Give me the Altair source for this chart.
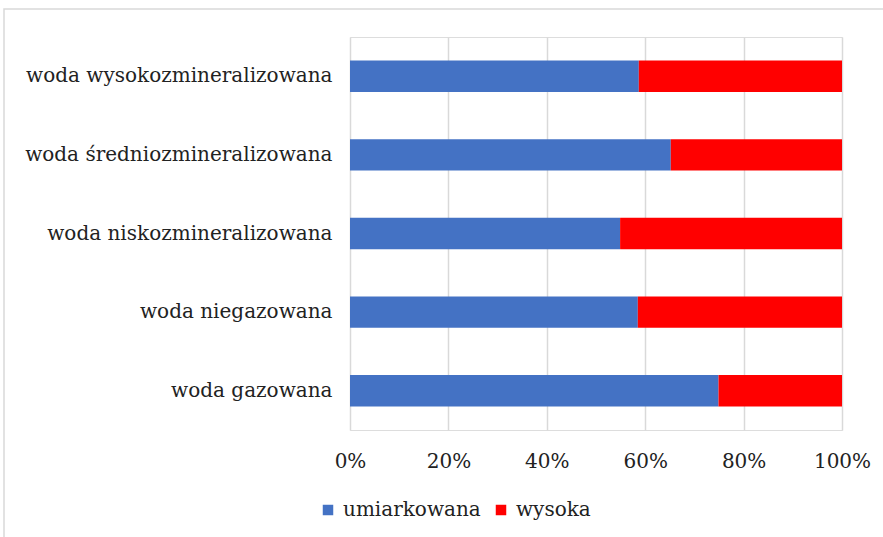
import altair as alt
import pandas as pd

categories = [
    "woda wysokozmineralizowana",
    "woda średniozmineralizowana",
    "woda niskozmineralizowana",
    "woda niegazowana",
    "woda gazowana",
]
umiarkowana = [58.7, 65.2, 54.9, 58.5, 74.9]
wysoka = [41.3, 34.8, 45.1, 41.5, 25.1]
series = ["umiarkowana", "wysoka"]
colors = ["#4472C4", "#FF0000"]

rows = []
for c, u, w in zip(categories, umiarkowana, wysoka):
    rows.append({"kategoria": c, "seria": "umiarkowana", "wartosc": u, "kol": 0})
    rows.append({"kategoria": c, "seria": "wysoka", "wartosc": w, "kol": 1})
df = pd.DataFrame(rows)

FONT = "DejaVu Serif"
TXT = "#222222"
FS = 20

bars = alt.Chart(df).mark_bar().encode(
    y=alt.Y("kategoria:N", sort=categories, title=None,
            scale=alt.Scale(paddingInner=0.6, paddingOuter=0.3),
            axis=alt.Axis(labelFont=FONT, labelFontSize=FS, labelColor=TXT,
                          labelPadding=18, ticks=False, domain=False, grid=False,
                          labelLimit=400)),
    x=alt.X("wartosc:Q", stack="normalize", title=None,
            scale=alt.Scale(domain=[0, 1], nice=False),
            axis=alt.Axis(format=".0%", values=[0, 0.2, 0.4, 0.6, 0.8, 1.0],
                          labelFont=FONT, labelFontSize=FS, labelColor=TXT,
                          labelPadding=21, labelFlush=False, ticks=False, domain=False,
                          grid=True, gridColor="#d9d9d9", gridWidth=1.5)),
    color=alt.Color("seria:N", sort=series,
                    scale=alt.Scale(domain=series, range=colors),
                    legend=alt.Legend(title=None, orient="none", direction="horizontal",
                                      legendX=-32, legendY=463,
                                      symbolType="square", symbolSize=110,
                                      symbolStrokeWidth=0,
                                      labelFont=FONT, labelFontSize=FS,
                                      labelColor=TXT, columnPadding=10,
                                      labelOffset=5)),
    order=alt.Order("kol:Q"),
)

frame = alt.Chart(pd.DataFrame({"f": [0]})).mark_rect(
    fill=None, stroke="#d9d9d9", strokeWidth=1.5
).encode(
    x=alt.value(-346), x2=alt.value(560),
    y=alt.value(-28), y2=alt.value(530),
)

chart = alt.layer(frame, bars).properties(
    width=492, height=393,
    padding={"left": 350, "top": 37, "right": 41, "bottom": 107},
    autosize=alt.AutoSizeParams(type="none"),
).configure_view(stroke=None).configure(background="white", font=FONT)

chart.save("out.html", embed_options={"renderer": "svg", "actions": False})
